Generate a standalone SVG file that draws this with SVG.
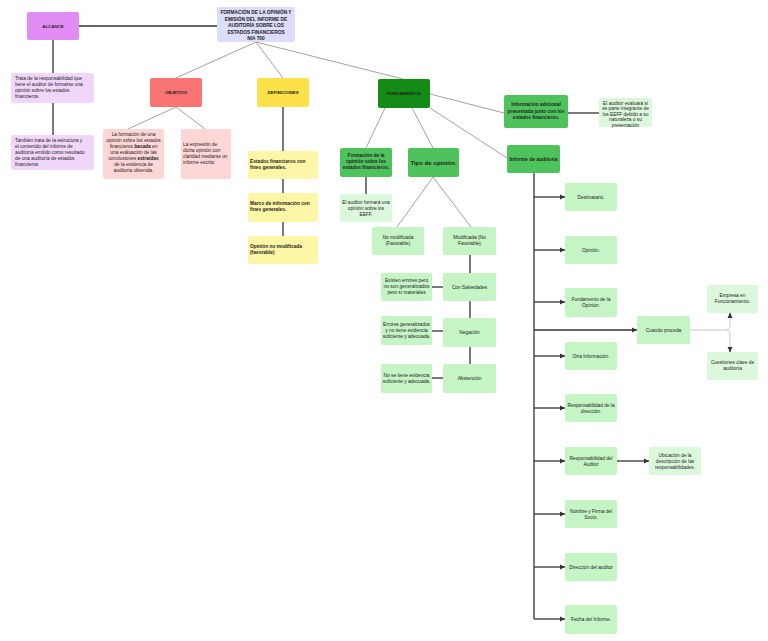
<svg xmlns="http://www.w3.org/2000/svg" width="768" height="641" viewBox="0 0 768 641">
<defs>
<marker id="ah" viewBox="0 0 6 6" refX="6" refY="3" markerWidth="4" markerHeight="4" orient="auto"><path d="M0,0 L6,3 L0,6 z" fill="#333"/></marker>
<style>
text{font-family:"Liberation Sans",Arial,sans-serif;font-size:4.8px;fill:#222}
.c{text-anchor:middle}
.b{font-weight:bold}
.t{font-size:6px;font-weight:bold}
.box{stroke:none}
.alc{fill:#e08cf4}
.lp{fill:#f1d6fb}
.tit{fill:#dcdcfb}
.obj{fill:#f87474}
.pk{fill:#fed6d6}
.def{fill:#fde148}
.ly{fill:#fdf6a6}
.dg{fill:#138b14}
.mg{fill:#4ec35b}
.lg{fill:#c5f4c5}
.xg{fill:#dcf8dc}
.dk{stroke:#333;stroke-width:1.3;fill:none}
.gr{stroke:#8a8a8a;stroke-width:0.8;fill:none}
.lt{stroke:#c8c8c8;stroke-width:1;fill:none}
</style>
</defs>
<rect width="768" height="641" fill="#fff"/>
<g id="connectors">
<line class="dk" x1="79" y1="26" x2="217" y2="26"/>
<line class="dk" x1="53" y1="40" x2="53" y2="73"/>
<line class="dk" x1="53" y1="103" x2="53" y2="135"/>
<line class="gr" x1="256" y1="42" x2="176" y2="78"/>
<line class="gr" x1="256" y1="42" x2="283" y2="78"/>
<line class="gr" x1="256" y1="42" x2="403" y2="79"/>
<line class="gr" x1="176" y1="107" x2="128" y2="129"/>
<line class="gr" x1="176" y1="107" x2="205" y2="129"/>
<line class="dk" x1="283" y1="107" x2="283" y2="151"/>
<line class="dk" x1="283" y1="179" x2="283" y2="193"/>
<line class="dk" x1="283" y1="222" x2="283" y2="236"/>
<line class="gr" x1="385" y1="108" x2="366" y2="148"/>
<line class="gr" x1="412" y1="108" x2="433" y2="148"/>
<line class="gr" x1="430" y1="94" x2="504" y2="113"/>
<line class="gr" x1="430" y1="108" x2="507" y2="158"/>
<line class="dk" x1="568" y1="113" x2="599" y2="113"/>
<line class="dk" x1="366" y1="177" x2="366" y2="194"/>
<line class="gr" x1="433" y1="177" x2="397" y2="227"/>
<line class="gr" x1="433" y1="177" x2="471" y2="227"/>
<line class="dk" x1="470" y1="255" x2="470" y2="273"/>
<line class="dk" x1="470" y1="301" x2="470" y2="318"/>
<line class="dk" x1="470" y1="347" x2="470" y2="364"/>
<line class="dk" x1="432" y1="287" x2="443" y2="287"/>
<line class="dk" x1="432" y1="331" x2="443" y2="331"/>
<line class="dk" x1="432" y1="378" x2="443" y2="378"/>
<line class="dk" x1="534" y1="173" x2="534" y2="619"/>
<line class="dk" x1="534" y1="197" x2="565" y2="197" marker-end="url(#ah)"/>
<line class="dk" x1="534" y1="250" x2="565" y2="250" marker-end="url(#ah)"/>
<line class="dk" x1="534" y1="302" x2="565" y2="302" marker-end="url(#ah)"/>
<line class="dk" x1="534" y1="330" x2="637" y2="330" marker-end="url(#ah)"/>
<line class="dk" x1="534" y1="356" x2="565" y2="356" marker-end="url(#ah)"/>
<line class="dk" x1="534" y1="408" x2="565" y2="408" marker-end="url(#ah)"/>
<line class="dk" x1="534" y1="461" x2="565" y2="461" marker-end="url(#ah)"/>
<line class="dk" x1="534" y1="514" x2="565" y2="514" marker-end="url(#ah)"/>
<line class="dk" x1="534" y1="567" x2="565" y2="567" marker-end="url(#ah)"/>
<line class="dk" x1="534" y1="619" x2="565" y2="619" marker-end="url(#ah)"/>
<line class="dk" x1="617" y1="461" x2="649" y2="461" marker-end="url(#ah)"/>
<path class="lt" d="M690,330 H726 Q730,330 730,325 V316"/>
<path class="lt" d="M726,330 Q730,330 730,335 V349"/>
<line class="dk" x1="730" y1="318" x2="730" y2="313" marker-end="url(#ah)"/>
<line class="dk" x1="730" y1="347" x2="730" y2="352" marker-end="url(#ah)"/>
</g>
<g id="alcance"><rect class="alc" x="27" y="12" width="52" height="28" rx="2"/><text class="c b" x="53" y="28" style="font-size:4.4px">ALCANCE</text></g>
<g id="titulo"><rect class="tit" x="217" y="7" width="78" height="35" rx="2"/>
<text class="c b" x="256" y="14">FORMACIÓN DE LA OPINIÓN Y</text>
<text class="c b" x="256" y="20.5">EMISIÓN DEL INFORME DE</text>
<text class="c b" x="256" y="27">AUDITORÍA SOBRE LOS</text>
<text class="c b" x="256" y="33.5">ESTADOS FINANCIEROS</text>
<text class="c b" x="256" y="40">NIA 700</text></g>
<g id="alc1"><rect class="lp" x="11" y="73" width="83" height="30" rx="2"/>
<text x="15" y="80">Trata de la responsabilidad que</text>
<text x="15" y="86">tiene el auditor de formarse una</text>
<text x="15" y="92">opinión sobre los estados</text>
<text x="15" y="98">financieros.</text></g>
<g id="alc2"><rect class="lp" x="11" y="135" width="83" height="35" rx="2"/>
<text x="15" y="142">También trata de la estructura y</text>
<text x="15" y="148">el contenido del informe de</text>
<text x="15" y="154">auditoría emitido como resultado</text>
<text x="15" y="160">de una auditoría de estados</text>
<text x="15" y="166">financieros</text></g>
<g id="objetivo"><rect class="obj" x="150" y="78" width="52" height="29" rx="2"/><text class="c b" x="176" y="94" style="font-size:4.4px">OBJETIVO</text></g>
<g id="obj1"><rect class="pk" x="103" y="129" width="61" height="50" rx="2"/>
<text class="c" x="133.5" y="136">La formación de una</text>
<text class="c" x="133.5" y="142">opinión sobre los estados</text>
<text class="c" x="133.5" y="148">financieros <tspan class="b">basada</tspan> en</text>
<text class="c" x="133.5" y="154">una evaluación de las</text>
<text class="c" x="133.5" y="160">conclusiones <tspan class="b">extraídas</tspan></text>
<text class="c" x="133.5" y="166">de la evidencia de</text>
<text class="c" x="133.5" y="172">auditoría obtenida.</text></g>
<g id="obj2"><rect class="pk" x="181" y="129" width="50" height="50" rx="2"/>
<text x="183" y="146">La expresión de</text>
<text x="183" y="152">dicha opinión con</text>
<text x="183" y="158">claridad mediante un</text>
<text x="183" y="164">informe escrito</text></g>
<g id="definiciones"><rect class="def" x="257" y="78" width="52" height="29" rx="2"/><text class="c b" x="283" y="94" style="font-size:4.4px">DEFINICIONES</text></g>
<g id="def1"><rect class="ly" x="248" y="151" width="70" height="28" rx="2"/>
<text class="b" x="250" y="163">Estados financieros con</text>
<text class="b" x="250" y="169">fines generales.</text></g>
<g id="def2"><rect class="ly" x="248" y="193" width="70" height="29" rx="2"/>
<text class="b" x="250" y="205">Marco de información con</text>
<text class="b" x="250" y="211">fines generales.</text></g>
<g id="def3"><rect class="ly" x="248" y="236" width="70" height="28" rx="2"/>
<text class="b" x="250" y="248">Opinión no modificada</text>
<text class="b" x="250" y="254">(favorable)</text></g>
<g id="fundamentos"><rect class="dg" x="378" y="79" width="52" height="29" rx="2"/><text class="c b" x="404" y="95" style="font-size:4.4px">FUNDAMENTOS</text></g>
<g id="formacion"><rect class="mg" x="340" y="148" width="52" height="29" rx="2"/>
<text class="c b" x="366" y="157">Formación de la</text>
<text class="c b" x="366" y="163">opinión sobre los</text>
<text class="c b" x="366" y="169">estados financieros.</text></g>
<g id="formara"><rect class="xg" x="340" y="194" width="52" height="28" rx="2"/>
<text class="c" x="366" y="204">El auditor formará una</text>
<text class="c" x="366" y="210">opinión sobre los</text>
<text class="c" x="366" y="216">EEFF.</text></g>
<g id="tipo"><rect class="mg" x="408" y="148" width="51" height="29" rx="2"/><text class="c t" x="433.5" y="164.5">Tipo de opinión.</text></g>
<g id="infoadic"><rect class="mg" x="504" y="95" width="64" height="33" rx="2"/>
<text class="c b" x="536" y="106">Información adicional</text>
<text class="c b" x="536" y="112.5">presentada junto con los</text>
<text class="c b" x="536" y="119">estados financieros.</text></g>
<g id="evaluara"><rect class="xg" x="599" y="98" width="53" height="29" rx="2"/>
<text class="c" x="625.5" y="104.5">El auditor evaluará si</text>
<text class="c" x="625.5" y="110">es parte integrante de</text>
<text class="c" x="625.5" y="115.5">los EEFF debido a su</text>
<text class="c" x="625.5" y="121">naturaleza o su</text>
<text class="c" x="625.5" y="126.5">presentación</text></g>
<g id="informe"><rect class="mg" x="507" y="145" width="53" height="28" rx="2"/><text class="c b" x="533.5" y="161" style="font-size:5px">Informe de auditoría</text></g>
<g id="nomod"><rect class="lg" x="372" y="227" width="52" height="28" rx="2"/>
<text class="c" x="398" y="239">No modificada</text>
<text class="c" x="398" y="245">(Favorable)</text></g>
<g id="mod"><rect class="lg" x="443" y="227" width="53" height="28" rx="2"/>
<text class="c" x="469.5" y="239">Modificada (No</text>
<text class="c" x="469.5" y="245">Favorable)</text></g>
<g id="salvedades"><rect class="lg" x="443" y="273" width="53" height="28" rx="2"/><text class="c" x="469.5" y="289">Con Salvedades</text></g>
<g id="negacion"><rect class="lg" x="443" y="318" width="53" height="29" rx="2"/><text class="c" x="469.5" y="334">Negación</text></g>
<g id="abstencion"><rect class="lg" x="443" y="364" width="53" height="29" rx="2"/><text class="c" x="469.5" y="380">Abstención</text></g>
<g id="existen"><rect class="lg" x="381" y="273" width="51" height="28" rx="2"/>
<text class="c" x="406.5" y="282">Existen errores pero</text>
<text class="c" x="406.5" y="288">no son generalizados</text>
<text class="c" x="406.5" y="294">pero sí materiales</text></g>
<g id="errores"><rect class="lg" x="381" y="316" width="51" height="29" rx="2"/>
<text class="c" x="406.5" y="326">Errores generalizados</text>
<text class="c" x="406.5" y="332">y no tiene evidencia</text>
<text class="c" x="406.5" y="338">suficiente y adecuada.</text></g>
<g id="notiene"><rect class="lg" x="381" y="364" width="51" height="29" rx="2"/>
<text class="c" x="406.5" y="377">No se tiene evidencia</text>
<text class="c" x="406.5" y="383">suficiente y adecuada.</text></g>
<g id="destinatario"><rect class="lg" x="565" y="183" width="52" height="28" rx="2"/><text class="c" x="591" y="199">Destinatario.</text></g>
<g id="opinion"><rect class="lg" x="565" y="236" width="52" height="28" rx="2"/><text class="c" x="591" y="252">Opinión.</text></g>
<g id="fundamento"><rect class="lg" x="565" y="288" width="52" height="29" rx="2"/>
<text class="c" x="591" y="301">Fundamento de la</text>
<text class="c" x="591" y="307">Opinión.</text></g>
<g id="cuando"><rect class="lg" x="637" y="316" width="53" height="28" rx="2"/><text class="c" x="663.5" y="332">Cuando proceda</text></g>
<g id="empresa"><rect class="xg" x="707" y="285" width="51" height="28" rx="2"/>
<text class="c" x="732.5" y="297">Empresa en</text>
<text class="c" x="732.5" y="303">Funcionamiento.</text></g>
<g id="cuestiones"><rect class="xg" x="707" y="352" width="51" height="28" rx="2"/>
<text class="c" x="732.5" y="364">Cuestiones clave de</text>
<text class="c" x="732.5" y="370">auditoría</text></g>
<g id="otra"><rect class="lg" x="565" y="342" width="52" height="28" rx="2"/><text class="c" x="591" y="358">Otra Información.</text></g>
<g id="respdir"><rect class="lg" x="565" y="394" width="52" height="28" rx="2"/>
<text class="c" x="591" y="407">Responsabilidad de la</text>
<text class="c" x="591" y="413">dirección.</text></g>
<g id="respaud"><rect class="lg" x="565" y="447" width="52" height="28" rx="2"/>
<text class="c" x="591" y="460">Responsabilidad del</text>
<text class="c" x="591" y="466">Auditor</text></g>
<g id="ubicacion"><rect class="xg" x="649" y="447" width="52" height="28" rx="2"/>
<text class="c" x="675" y="457">Ubicación de la</text>
<text class="c" x="675" y="463">descripción de las</text>
<text class="c" x="675" y="469">responsabilidades.</text></g>
<g id="nombre"><rect class="lg" x="565" y="500" width="52" height="28" rx="2"/>
<text class="c" x="591" y="513">Nombre y Firma del</text>
<text class="c" x="591" y="519">Socio.</text></g>
<g id="direccion"><rect class="lg" x="565" y="553" width="52" height="28" rx="2"/><text class="c" x="591" y="569">Dirección del auditor</text></g>
<g id="fecha"><rect class="lg" x="565" y="605" width="52" height="29" rx="2"/><text class="c" x="591" y="621">Fecha del Informe.</text></g>
</svg>
